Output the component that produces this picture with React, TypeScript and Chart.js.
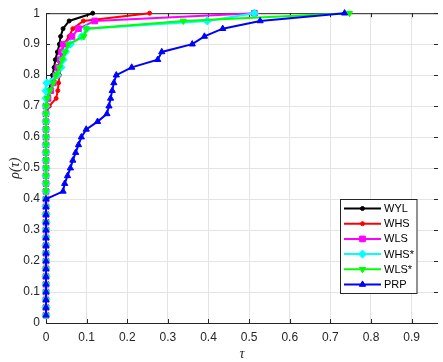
import React, { useEffect, useRef } from 'react';
import { Chart, registerables } from 'chart.js';

Chart.register(...registerables);

// performance-profile levels rho(tau)
const rho = [
  0.025, 0.05, 0.075, 0.1, 0.125, 0.15, 0.175, 0.2, 0.225, 0.25,
  0.275, 0.3, 0.325, 0.35, 0.375, 0.4, 0.425, 0.45, 0.475, 0.5,
  0.525, 0.55, 0.575, 0.6, 0.625, 0.65, 0.675, 0.7, 0.725, 0.75,
  0.775, 0.8, 0.825, 0.85, 0.875, 0.9, 0.925, 0.95, 0.975, 1.0,
];

const tauWYL = [
  0, 0, 0, 0, 0, 0, 0, 0, 0, 0,
  0, 0, 0, 0, 0, 0, 0, 0, 0, 0,
  0, 0, 0, 0, 0, 0, 0, 0, 0.004, 0.008,
  0.011, 0.016, 0.02, 0.023, 0.028, 0.033, 0.036, 0.042, 0.057, 0.115,
];
const tauWHS = [
  0, 0, 0, 0, 0, 0, 0, 0, 0, 0,
  0, 0, 0, 0, 0, 0, 0, 0, 0, 0,
  0, 0, 0, 0, 0, 0, 0, 0.008, 0.025, 0.029,
  0.031, 0.033, 0.035, 0.037, 0.039, 0.044, 0.057, 0.066, 0.092, 0.255,
];
const tauWLS = [
  0, 0, 0, 0, 0, 0, 0, 0, 0, 0,
  0, 0, 0, 0, 0, 0, 0, 0, 0, 0,
  0, 0, 0, 0, 0, 0, 0, 0, 0.005, 0.012,
  0.018, 0.024, 0.029, 0.035, 0.038, 0.043, 0.064, 0.08, 0.12, 0.513,
];
const tauWHSs = [
  0, 0, 0, 0, 0, 0, 0, 0, 0, 0,
  0, 0, 0, 0, 0, 0, 0, 0, 0, 0,
  0, 0, 0, 0, 0, 0, 0, 0, 0, 0,
  0.002, 0.028, 0.037, 0.042, 0.048, 0.06, 0.088, 0.1, 0.397, 0.513,
];
const tauWLSs = [
  0, 0, 0, 0, 0, 0, 0, 0, 0, 0,
  0, 0, 0, 0, 0, 0, 0, 0, 0, 0,
  0, 0, 0, 0, 0, 0, 0, 0, 0.003, 0.01,
  0.018, 0.025, 0.033, 0.04, 0.047, 0.055, 0.093, 0.1, 0.338, 0.747,
];
const tauPRP = [
  0, 0, 0, 0, 0, 0, 0, 0, 0, 0,
  0, 0, 0, 0, 0, 0, 0.042, 0.046, 0.053, 0.06,
  0.066, 0.073, 0.08, 0.087, 0.099, 0.127, 0.15, 0.155, 0.159, 0.163,
  0.167, 0.173, 0.211, 0.275, 0.285, 0.36, 0.39, 0.435, 0.527, 0.735,
];

const seriesNames = ['WYL', 'WHS', 'WLS', 'WHS*', 'WLS*', 'PRP'];
const seriesTau = [tauWYL, tauWHS, tauWLS, tauWHSs, tauWLSs, tauPRP];
const seriesColors = ['#000000', '#ff0000', '#ff00ff', '#00ffff', '#00ff00', '#0000ff'];
const seriesMarkers = ['circle', 'circle', 'rect', 'rectRot', 'triangle', 'triangle'];
const seriesRotation = [0, 0, 0, 0, 180, 0];
const seriesRadius = [2, 2, 4, 4, 3.6, 3.6];

const xTicks = [0, 0.1, 0.2, 0.3, 0.4, 0.5, 0.6, 0.7, 0.8, 0.9];
const xTickLabels = ['0', '0.1', '0.2', '0.3', '0.4', '0.5', '0.6', '0.7', '0.8', '0.9'];
const yTicks = [0, 0.1, 0.2, 0.3, 0.4, 0.5, 0.6, 0.7, 0.8, 0.9, 1];
const yTickLabels = ['0', '0.1', '0.2', '0.3', '0.4', '0.5', '0.6', '0.7', '0.8', '0.9', '1'];

const X_MAX = 0.965;
const AXIS_COLOR = '#262626';
const FONT = '"Liberation Sans", Arial, sans-serif';

const decorPlugin = {
  id: 'decor',
  beforeDatasetsDraw(chart: any) {
    const { ctx, chartArea: a, scales } = chart;
    ctx.save();
    ctx.strokeStyle = AXIS_COLOR;
    ctx.lineWidth = 1;
    ctx.beginPath();
    // left, bottom, top borders
    ctx.moveTo(a.left + 0.5, a.top + 0.5);
    ctx.lineTo(a.left + 0.5, a.bottom + 0.5);
    ctx.lineTo(a.right, a.bottom + 0.5);
    ctx.moveTo(a.left + 0.5, a.top + 0.5);
    ctx.lineTo(a.right, a.top + 0.5);
    const tl = 4;
    xTicks.forEach((v) => {
      const px = Math.round(scales.x.getPixelForValue(v)) + 0.5;
      ctx.moveTo(px, a.bottom);
      ctx.lineTo(px, a.bottom - tl);
      ctx.moveTo(px, a.top);
      ctx.lineTo(px, a.top + tl);
    });
    yTicks.forEach((v) => {
      const py = Math.round(scales.y.getPixelForValue(v)) + 0.5;
      ctx.moveTo(a.left, py);
      ctx.lineTo(a.left + tl, py);
      ctx.moveTo(a.right, py);
      ctx.lineTo(a.right - tl, py);
    });
    ctx.stroke();
    ctx.restore();
  },
  afterDraw(chart: any) {
    const { ctx, chartArea: a } = chart;
    ctx.save();
    // axis titles
    ctx.fillStyle = AXIS_COLOR;
    ctx.font = 'italic 14px "Liberation Serif", "DejaVu Serif", serif';
    ctx.textAlign = 'center';
    ctx.textBaseline = 'middle';
    ctx.fillText('\u03c4', (a.left + a.right) / 2, 354);
    ctx.save();
    ctx.translate(15, (a.top + a.bottom) / 2);
    ctx.rotate(-Math.PI / 2);
    ctx.fillText('\u03c1(\u03c4)', 0, 0);
    ctx.restore();

    // legend
    const bx = 340.5, by = 199.5, bw = 76.5, bh = 94;
    ctx.fillStyle = '#ffffff';
    ctx.fillRect(bx, by, bw, bh);
    ctx.strokeStyle = AXIS_COLOR;
    ctx.lineWidth = 1;
    ctx.strokeRect(bx, by, bw, bh);
    ctx.font = `11px ${FONT}`;
    ctx.textAlign = 'left';
    ctx.textBaseline = 'middle';
    seriesNames.forEach((name, i) => {
      const y = 208.5 + i * 15.2;
      ctx.strokeStyle = seriesColors[i];
      ctx.lineWidth = 2;
      ctx.beginPath();
      ctx.moveTo(344, y);
      ctx.lineTo(381, y);
      ctx.stroke();
      ctx.fillStyle = seriesColors[i];
      ctx.strokeStyle = seriesColors[i];
      ctx.lineWidth = 1;
      (Chart as any).helpers?.drawPoint;
      drawMarker(ctx, seriesMarkers[i], seriesRadius[i], seriesRotation[i], 362.5, y);
      ctx.fillStyle = '#000000';
      ctx.fillText(name, 384, y + 0.5);
    });
    ctx.restore();
  },
};

function drawMarker(ctx: CanvasRenderingContext2D, style: string, r: number, rot: number, x: number, y: number) {
  ctx.beginPath();
  if (style === 'circle') {
    ctx.arc(x, y, r, 0, Math.PI * 2);
  } else if (style === 'rect') {
    const s = Math.SQRT1_2 * r;
    ctx.rect(x - s, y - s, 2 * s, 2 * s);
  } else if (style === 'rectRot') {
    const s = r;
    ctx.moveTo(x, y - s);
    ctx.lineTo(x + s, y);
    ctx.lineTo(x, y + s);
    ctx.lineTo(x - s, y);
    ctx.closePath();
  } else if (style === 'triangle') {
    let ang = (rot * Math.PI) / 180;
    for (let k = 0; k < 3; k++) {
      const px = x + Math.sin(ang) * r;
      const py = y - Math.cos(ang) * r;
      if (k === 0) ctx.moveTo(px, py);
      else ctx.lineTo(px, py);
      ang += (2 * Math.PI) / 3;
    }
    ctx.closePath();
  }
  ctx.fill();
  ctx.stroke();
}

export default function App() {
  const canvasRef = useRef<HTMLCanvasElement | null>(null);

  useEffect(() => {
    const canvas = canvasRef.current;
    if (!canvas) return;
    const datasets = seriesNames.map((name, i) => ({
      label: name,
      data: seriesTau[i].map((t, k) => ({ x: t, y: rho[k] })),
      showLine: true,
      borderColor: seriesColors[i],
      backgroundColor: seriesColors[i],
      borderWidth: 2,
      pointStyle: seriesMarkers[i] as any,
      pointRotation: seriesRotation[i],
      pointRadius: seriesRadius[i],
      pointBorderWidth: 1,
      pointBorderColor: seriesColors[i],
      pointBackgroundColor: seriesColors[i],
      tension: 0,
      clip: false as any,
      order: seriesNames.length - i,
    }));

    const chart = new Chart(canvas, {
      type: 'scatter',
      data: { datasets },
      plugins: [decorPlugin],
      options: {
        animation: false,
        responsive: false,
        devicePixelRatio: 1,
        layout: { padding: { top: 10, right: 0, left: 0, bottom: 0 } },
        plugins: {
          legend: { display: false },
          tooltip: { enabled: false },
        },
        scales: {
          x: {
            type: 'linear',
            min: 0,
            max: X_MAX,
            afterBuildTicks: (s: any) => {
              s.ticks = xTicks.map((v) => ({ value: v }));
            },
            afterFit: (s: any) => {
              s.height = 39;
            },
            ticks: {
              color: AXIS_COLOR,
              font: { family: FONT, size: 12 },
              padding: 7,
              maxRotation: 0,
              autoSkip: false,
              callback: (v: any) => {
                const idx = xTicks.findIndex((t) => Math.abs(t - v) < 1e-9);
                return idx >= 0 ? xTickLabels[idx] : '';
              },
            },
            grid: { color: '#e4e4e4', lineWidth: 1, drawTicks: false },
            border: { display: false },
          },
          y: {
            type: 'linear',
            min: 0,
            max: 1,
            afterBuildTicks: (s: any) => {
              s.ticks = yTicks.map((v) => ({ value: v }));
            },
            afterFit: (s: any) => {
              s.width = 46;
            },
            ticks: {
              color: AXIS_COLOR,
              font: { family: FONT, size: 12 },
              padding: 6,
              autoSkip: false,
              callback: (v: any) => {
                const idx = yTicks.findIndex((t) => Math.abs(t - v) < 1e-9);
                return idx >= 0 ? yTickLabels[idx] : '';
              },
            },
            grid: { color: '#e4e4e4', lineWidth: 1, drawTicks: false },
            border: { display: false },
          },
        },
      },
    });
    return () => chart.destroy();
  }, []);

  return (
    <div style={{ position: 'fixed', left: 0, top: 0, width: 443, height: 362, background: '#ffffff', overflow: 'hidden' }}>
      <canvas ref={canvasRef} width={443} height={362} style={{ display: 'block', width: 443, height: 362 }} />
    </div>
  );
}
